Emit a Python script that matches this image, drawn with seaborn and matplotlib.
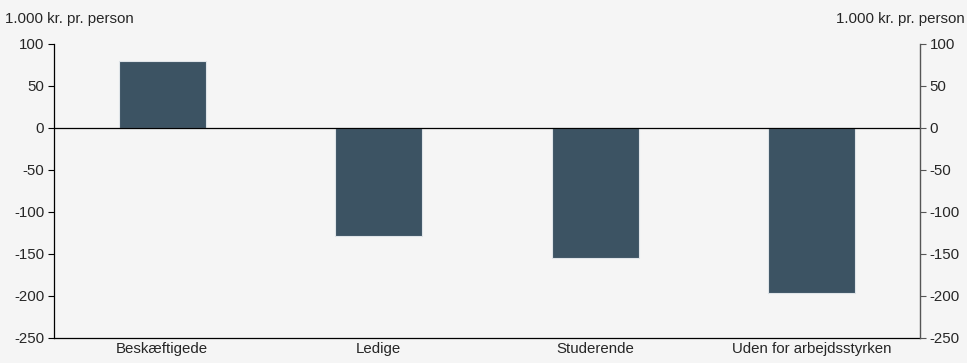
import matplotlib
matplotlib.use("Agg")
import matplotlib.pyplot as plt
import seaborn as sns
import pandas as pd

# data
categories = ["Beskæftigede", "Ledige", "Studerende", "Uden for arbejdsstyrken"]
values = [80, -129, -155, -197]
y_ticks = [100, 50, 0, -50, -100, -150, -200, -250]
unit_label = "1.000 kr. pr. person"

bg = "#f5f5f5"
bar_color = "#3c5363"
fs = 10.8

sns.set_style("white")
plt.rcParams["font.family"] = ["Liberation Sans", "DejaVu Sans"]
plt.rcParams["font.size"] = fs
plt.rcParams["axes.unicode_minus"] = False

df = pd.DataFrame({"cat": categories, "val": values})

fig = plt.figure(figsize=(9.67, 3.63), dpi=100, facecolor=bg)
ax = fig.add_axes([0.0558, 0.0689, 0.8956, 0.8099], facecolor=bg)

sns.barplot(data=df, x="cat", y="val", color=bar_color, width=0.4,
            edgecolor="#dfe4e8", linewidth=0.8, saturation=1, ax=ax)

ax.set_ylim(-250, 100)
ax.set_yticks(y_ticks)
ax.set_xlim(-0.5, len(categories) - 0.5)
ax.axhline(0, color="black", linewidth=0.9, zorder=3)
ax.set_xlabel("")
ax.set_ylabel("")

# x ticks sit between categories, labels at centres
ax.set_xticks([i + 0.5 for i in range(len(categories) - 1)], minor=True)
ax.tick_params(axis="x", which="minor", length=4, width=0.8, direction="out", color="black")
ax.tick_params(axis="x", which="major", length=0, pad=3, labelsize=fs)
ax.tick_params(axis="y", length=4, width=0.8, direction="out", color="black", pad=3, labelsize=fs)

for s in ["top", "right"]:
    ax.spines[s].set_visible(False)
ax.spines["left"].set_color("black")
ax.spines["bottom"].set_color("black")
ax.spines["left"].set_linewidth(0.9)
ax.spines["bottom"].set_linewidth(0.9)

ax2 = ax.twinx()
ax2.set_ylim(-250, 100)
ax2.set_yticks(y_ticks)
ax2.tick_params(axis="y", length=4, width=0.8, direction="out", color="#555555", pad=3, labelsize=fs)
for s in ["top", "left", "bottom"]:
    ax2.spines[s].set_visible(False)
ax2.spines["right"].set_color("#555555")
ax2.spines["right"].set_linewidth(1.0)

fig.text(5 / 967, 1 - 19 / 363, unit_label, ha="left", va="center", fontsize=fs)
fig.text(965 / 967, 1 - 19 / 363, unit_label, ha="right", va="center", fontsize=fs)

fig.savefig("out.png", dpi=100, facecolor=bg)
